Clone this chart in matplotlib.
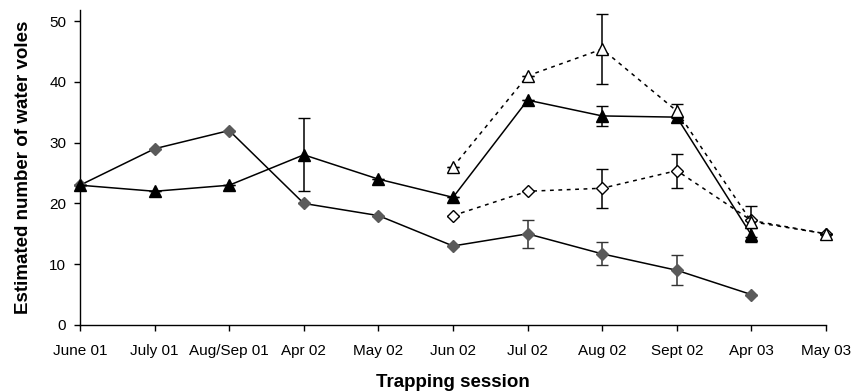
import numpy as np
import matplotlib.pyplot as plt

plt.rcParams["font.family"] = ["Liberation Sans", "DejaVu Sans"]

sessions = ["June 01", "July 01", "Aug/Sep 01", "Apr 02", "May 02", "Jun 02",
            "Jul 02", "Aug 02", "Sept 02", "Apr 03", "May 03"]

# grey diamonds, solid line
diam_x = [0, 1, 2, 3, 4, 5, 6, 7, 8, 9]
diam_y = [23, 29, 32, 20, 18, 13, 15, 11.7, 9, 5]
diam_err = [0, 0, 0, 0, 0, 0, 2.3, 1.9, 2.5, 0]

# black triangles, solid line
tri_x = [0, 1, 2, 3, 4, 5, 6, 7, 8, 9]
tri_y = [23, 22, 23, 28, 24, 21, 37, 34.4, 34.2, 14.8]
tri_err = [0, 0, 0, 6, 0, 0, 0, 1.7, 0, 1.2]

# open triangles, dotted line
otri_x = [5, 6, 7, 8, 9, 10]
otri_y = [26, 41, 45.4, 35.2, 17.0, 15]
otri_err = [0, 0, 5.7, 1.1, 2.6, 0]

# open diamonds, dotted line
odiam_x = [5, 6, 7, 8, 9, 10]
odiam_y = [18, 22, 22.5, 25.4, 17.2, 15]
odiam_err = [0, 0, 3.2, 2.8, 0, 0]

fig = plt.figure(figsize=(8.54, 3.92), dpi=100)
ax = fig.add_axes([0.0937, 0.171, 0.8735, 0.803])

cap = 4
ax.errorbar(diam_x, diam_y, yerr=diam_err, color="black", lw=1.1,
            marker="D", ms=6, mfc="#5a5a5a", mec="#5a5a5a",
            ecolor="#333333", elinewidth=1.1, capsize=cap, zorder=3, clip_on=False)
ax.errorbar(tri_x, tri_y, yerr=tri_err, color="black", lw=1.1,
            marker="^", ms=8, mfc="black", mec="black",
            ecolor="black", elinewidth=1.1, capsize=cap, zorder=3, clip_on=False)
ax.errorbar(odiam_x, odiam_y, yerr=odiam_err, color="black", lw=1.1, ls=(0, (2.5, 3)),
            marker="D", ms=6, mfc="white", mec="black",
            ecolor="black", elinewidth=1.1, capsize=cap, zorder=4, clip_on=False)
ax.errorbar(otri_x, otri_y, yerr=otri_err, color="black", lw=1.1, ls=(0, (2.5, 3)),
            marker="^", ms=8, mfc="white", mec="black",
            ecolor="black", elinewidth=1.1, capsize=cap, zorder=5, clip_on=False)

ax.set_xlim(0, 10)
ax.set_ylim(0, 51.8)
ax.set_yticks([0, 10, 20, 30, 40, 50])
ax.set_xticks(np.arange(len(sessions)))
ax.set_xticklabels(sessions)
ax.tick_params(labelsize=11, direction="out", length=4, width=1)
ax.tick_params(axis="x", pad=10)
ax.tick_params(axis="y", pad=6)
ax.spines["top"].set_visible(False)
ax.spines["right"].set_visible(False)
ax.spines["left"].set_linewidth(1)
ax.spines["bottom"].set_linewidth(1)
for lab in ax.get_xticklabels() + ax.get_yticklabels():
    lab.set_clip_on(False)

ax.set_xlabel("Trapping session", fontsize=13.5, fontweight="bold", labelpad=11)
ax.set_ylabel("Estimated number of water voles", fontsize=13.5, fontweight="bold", labelpad=12)

fig.savefig("out.png", dpi=100)
